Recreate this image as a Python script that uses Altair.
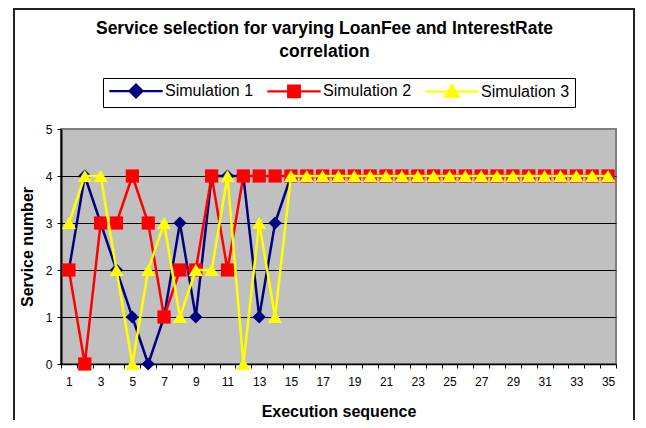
import altair as alt
import pandas as pd

steps = list(range(1, 36))
series_names = ["Simulation 1", "Simulation 2", "Simulation 3"]
sim1 = [2, 4, 3, 2, 1, 0, 1, 3, 1, 4, 4, 4, 1, 3, 4, 4, 4, 4, 4, 4, 4, 4, 4, 4, 4, 4, 4, 4, 4, 4, 4, 4, 4, 4, 4]
sim2 = [2, 0, 3, 3, 4, 3, 1, 2, 2, 4, 2, 4, 4, 4, 4, 4, 4, 4, 4, 4, 4, 4, 4, 4, 4, 4, 4, 4, 4, 4, 4, 4, 4, 4, 4]
sim3 = [3, 4, 4, 2, 0, 2, 3, 1, 2, 2, 4, 0, 3, 1, 4, 4, 4, 4, 4, 4, 4, 4, 4, 4, 4, 4, 4, 4, 4, 4, 4, 4, 4, 4, 4]
colors = ["#000080", "#FF0000", "#FFFF00"]
shapes = ["diamond", "square", "triangle-up"]
legend_paths = [
    "M-4.1,0H4.1M0,-1L1,0L0,1L-1,0Z",
    "M-4.1,0H4.1M-0.9,-0.9H0.9V0.9H-0.9Z",
    "M-4.1,0H4.1M0,-1.05L1.05,0.8H-1.05Z",
]
x_ticks = [v + 0.5 for v in range(0, 36)]

rows = []
for name, vals in zip(series_names, [sim1, sim2, sim3]):
    for s, v in zip(steps, vals):
        rows.append({"step": s, "value": v, "series": name})
df = pd.DataFrame(rows)

FONT = "Liberation Sans"
W, H = 555, 235

x_enc = alt.X(
    "step:Q",
    scale=alt.Scale(domain=[0.5, 35.5], nice=False, zero=False),
    axis=alt.Axis(
        title="Execution sequence",
        values=x_ticks,
        labelExpr="((datum.value + 0.5) % 2 == 1 && datum.value < 35) ? format(datum.value + 0.5, 'd') : ''",
        labelOffset=W / 35 / 2,
        labelOverlap=False,
        labelFlush=False,
        grid=False,
        tickSize=4,
        labelPadding=8,
        titlePadding=16,
        labelFont=FONT,
        labelFontSize=12,
        labelColor="black",
        titleFont=FONT,
        titleFontSize=16,
        titleFontWeight="bold",
        titleColor="black",
        domainColor="black",
        domainWidth=1.5,
        tickColor="black",
    ),
)
y_enc = alt.Y(
    "value:Q",
    scale=alt.Scale(domain=[0, 5], nice=False),
    axis=alt.Axis(
        title="Service number",
        values=[0, 1, 2, 3, 4, 5],
        format="d",
        grid=True,
        gridColor={"condition": {"test": "datum.value >= 5", "value": "#808080"}, "value": "black"},
        gridWidth=1,
        tickSize=4,
        labelPadding=5,
        titlePadding=10,
        labelFont=FONT,
        labelFontSize=12,
        labelColor="black",
        titleFont=FONT,
        titleFontSize=16,
        titleFontWeight="bold",
        titleColor="black",
        domainColor="black",
        domainWidth=2,
        tickColor="black",
    ),
)

layers = []
for i, name in enumerate(series_names):
    base = alt.Chart(df).transform_filter(alt.datum.series == name)
    line = base.mark_line(color=colors[i], strokeWidth=2.5).encode(x=x_enc, y=y_enc)
    pts = base.mark_point(
        shape=shapes[i], filled=True, color=colors[i], size=175 if i < 2 else 200, opacity=1
    ).encode(x=x_enc, y=y_enc)
    layers += [line, pts]

leg = alt.Legend(
    title=None,
    orient="none",
    legendX=42,
    legendY=-51,
    direction="horizontal",
    symbolSize=169,
    symbolOffset=20,
    symbolStrokeWidth=2.2,
    symbolOpacity=1,
    labelFont=FONT,
    labelFontSize=16,
    labelColor="black",
    labelOffset=21,
    columnPadding=8,
    padding=5,
    strokeColor="black",
    fillColor="white",
)
legend_layer = alt.Chart(df).mark_point(filled=True, opacity=0).encode(
    x=x_enc,
    y=y_enc,
    fill=alt.Fill("series:N", scale=alt.Scale(domain=series_names, range=colors), legend=leg),
    stroke=alt.Stroke("series:N", scale=alt.Scale(domain=series_names, range=colors), legend=leg),
    shape=alt.Shape("series:N", scale=alt.Scale(domain=series_names, range=legend_paths), legend=leg),
)

frame = alt.Chart(alt.Data(values=[{"a": 1}])).mark_rect(
    fill=None, stroke="#222222", strokeWidth=2
).encode(
    x=alt.value(-47), x2=alt.value(573), y=alt.value(-120), y2=alt.value(330)
)

chart = alt.layer(frame, *layers, legend_layer).properties(
    width=W,
    height=H,
    background="white",
    title=alt.Title(
        ["Service selection for varying LoanFee and InterestRate", "correlation"],
        font=FONT,
        fontSize=17.5,
        fontWeight="bold",
        color="black",
        anchor="middle",
        lineHeight=23,
        offset=8,
        dy=60,
        dx=-14,
    ),
    padding={"left": 53, "top": 121, "right": 22, "bottom": 56},
    autosize=alt.AutoSizeParams(type="none"),
).configure_view(
    fill="#C0C0C0", stroke="#808080", strokeWidth=2
)

chart.save("out.html", embed_options={"renderer": "svg", "actions": False})
